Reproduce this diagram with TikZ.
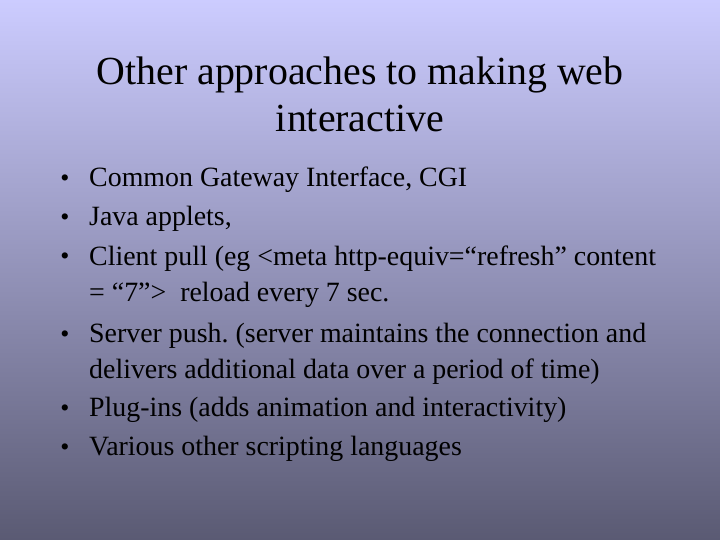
\documentclass[tikz,border=0pt]{standalone}
\usepackage{fontspec}
\setmainfont{Liberation Serif}
\frenchspacing
\definecolor{slidetop}{RGB}{204,204,255}
\definecolor{slidebottom}{RGB}{90,90,115}
\tikzset{
	heading/.style={font=\fontsize{40}{48}\selectfont, align=center, anchor=base, inner sep=0pt},
	point/.style={font=\fontsize{28}{36}\selectfont, align=left, anchor=base west, inner sep=0pt},
	dot/.style={font=\fontsize{26}{30}\selectfont, anchor=base, inner sep=0pt}
}
\begin{document}
\begin{tikzpicture}[x=1bp, y=-1bp]
		% Slide background
		\useasboundingbox (0,0) rectangle (720,540);
		\shade[top color=slidetop, bottom color=slidebottom] (0,0) rectangle (720,540);

		% Title (base is the last line)
		\node[heading] (title) at (360,132) {Other approaches to making web\\interactive};

		% Bullet points
		\node[point] (cgi) at (89,187) {Common Gateway Interface, CGI};
		\node[point] (applets) at (89,226) {Java applets,};
		\node[point] (pull) at (89,301) {Client pull (eg <meta http-equiv=“refresh” content\\= “7”>~ reload every 7 sec.};
		\node[point] (push) at (89,378) {Server push. (server maintains the connection and\\delivers additional data over a period of time)};
		\node[point] (plugins) at (89,416) {Plug-ins (adds animation and interactivity)};
		\node[point] (scripts) at (89,455) {Various other scripting languages};

		\foreach \y/\n in {187/1, 226/2, 265/3, 342/4, 416/5, 455/6}
			\node[dot] (dot\n) at (65,\y) {•};
	\end{tikzpicture}
\end{document}
